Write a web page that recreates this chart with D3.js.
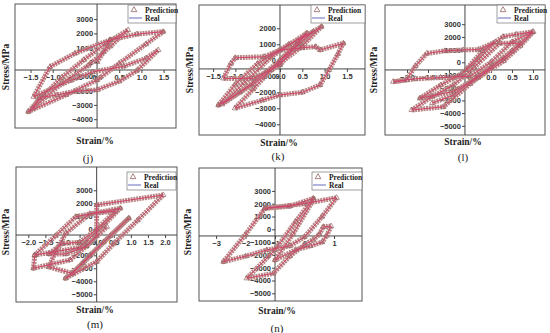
<!DOCTYPE html>
<html>
<head>
<meta charset="utf-8">
<script src="https://cdn.jsdelivr.net/npm/d3@7"></script>
<style>
  body { margin: 0; background: #fff; }
  svg { display: block; font-family: "Liberation Serif", "DejaVu Serif", serif; }
  .tick text { font-size: 7.5px; font-weight: bold; fill: #333; }
  .ttl { font-size: 9.5px; font-weight: bold; fill: #222; }
  .cap { font-size: 11px; fill: #222; }
  .leg { font-size: 7.5px; font-weight: bold; fill: #222; }
</style>
</head>
<body>
<svg width="550" height="333"></svg>
<script>
// strain (%) / stress (MPa) vertices
var loopJ = [
  [0, 0], [0.15, 700], [0.3, 1550], [0.9, 1950], [1.49, 2120],
  [1.1, 1250], [0.5, -100], [0, -1260], [-0.7, -2300], [-1.55, -3470],
  [-1.2, -2300], [-0.8, -1100], [-0.3, 150], [0.2, 1300], [0.7, 2240],
  [0.3, 1100], [-0.2, -250], [-0.8, -1500], [-1.45, -3250],
  [-1.3, -2500], [-0.9, -2300], [-0.5, -2050], [0, -1950], [0.5, -1350], [0.9, -600], [1.38, 840],
  [1.1, 250], [0.6, -300], [-0.1, -700], [-0.6, -1300], [-1.43, -2430],
  [-1.06, -330], [-0.5, 600], [0.29, 1540]
];
var loopK = [
  [0, 0], [0.4, 1200], [0.93, 2100], [0.5, 900], [0, -200], [-0.6, -1500], [-1.38, -2800],
  [-1.0, -1500], [-0.5, -200], [0.2, 1000], [0.75, 1800],
  [0.3, 700], [-0.3, -700], [-0.9, -2000], [-1.3, -2750],
  [-0.8, -1400], [-0.2, 200], [0.6, 1700],
  [0.0, -300], [-0.6, -1130], [-1.27, -1130], [-1.1, -200], [-1.0, 160], [-0.36, 220], [0, 640],
  [0.5, 780], [0.8, 850], [0.9, 650], [1.42, 1060],
  [1.3, 400], [1.1, -600], [0.9, -1540], [0.5, -2000], [0, -2170], [-0.4, -2500], [-1.01, -3000],
  [-0.6, -1800], [-0.2, -600], [0.4, 1000]
];
var loopL = [
  [-0.6, -600], [-0.2, 900], [0.29, 2020], [0.6, 2200], [1.01, 2410],
  [0.7, 1300], [0.3, 100], [-0.3, -1200], [-0.9, -2300], [-1.69, -2830],
  [-1.2, -1800], [-0.7, -900], [-0.3, 200], [0.1, 1600],
  [-0.3, 1000], [-0.66, 970], [-1.1, 900], [-1.53, 700], [-1.8, -300], [-2.01, -1390], [-2.33, -1530],
  [-1.8, -1300], [-1.2, -1200], [-0.5, -1100], [0, 0], [0.5, 1600], [0.99, 2400],
  [0.5, 900], [0, -400], [-0.5, -1700], [-1.13, -3500], [-1.89, -3760],
  [-1.4, -2700], [-0.9, -1800], [-0.4, -400], [0.2, 1500], [0.7, 1500],
  [0.3, 300], [-0.3, -1000], [-0.9, -2600], [-1.4, -3200]
];
var loopM = [
  [-1.81, -1980], [-1.2, -500], [-0.61, 970], [0.69, 1620], [0.2, 300], [-0.5, -1400], [-1.81, -1980],
  [-1.85, -3000], [-0.78, -2360], [-0.3, -1300], [0, -500], [0, 1870], [1.95, 2640],
  [1.2, 700], [0.5, -1100], [0, -2490], [-0.91, -3770], [-0.4, -2600], [0.2, -1000], [0.94, 850],
  [0.4, -500], [-0.2, -2000], [-0.7, -3400],
  [-1.4, -2900], [-1.2, -1700], [-0.9, -300], [-0.2, 1200], [0.55, 1400],
  [0, 0], [-0.5, -1000], [-1.0, -1100], [-1.4, -1900], [-0.9, -1900], [-0.3, -1300], [0.3, 200]
];
var loopN = [
  [-1.34, 1640], [0, 2000], [1.09, 2470], [0.6, 1000], [0, -600], [-0.5, -1300], [-1.28, -1620],
  [-2.0, -2100], [-2.75, -2530], [-2.0, -400], [-1.34, 1640],
  [-0.5, 1800], [0.30, 2420], [-0.3, 600], [-1.0, -1600], [-1.96, -3830], [-1.06, -3440],
  [-0.5, -2100], [0, -1200], [0.3, -800], [0.5, -400], [0.64, 200], [0.9, 250],
  [0.75, -500], [0.6, -1000], [0.2, -1300], [-0.3, -1600], [-1.0, -2400], [-0.4, -400], [0.3, 2300]
];

var ticksX = {
  j: [-1.5, -1, -0.5, 0, 0.5, 1, 1.5],
  k: [-1.5, -1, -0.5, 0, 0.5, 1, 1.5],
  l: [-2, -1.5, -1, -0.5, 0, 0.5, 1],
  m: [-2, -1.5, -1, -0.5, 0, 0.5, 1, 1.5, 2],
  n: [-3, -2, -1, 0, 1]
};
var ticksY = {
  j: [-4000, -3000, -2000, -1000, 0, 1000, 2000, 3000],
  k: [-4000, -3000, -2000, -1000, 0, 1000, 2000],
  l: [-5000, -4000, -3000, -2000, -1000, 0, 1000, 2000, 3000],
  m: [-5000, -4000, -3000, -2000, -1000, 0, 1000, 2000, 3000],
  n: [-5000, -4000, -3000, -2000, -1000, 0, 1000, 2000, 3000]
};

var panels = [
  { id: "j", data: loopJ, box: [15, 4, 176, 128], xd: [-1.85, 1.78], yd: [-4615, 4056], xAt: -560, yAt: 0, fmt: ".1f",
    stress: [6, 67], strain: [95, 141], cap: [88, 158], leg: [128, 5, 48] },
  { id: "k", data: loopK, box: [199, 5, 365, 135], xd: [-1.816, 1.906], yd: [-4669, 3456], xAt: -540, yAt: 0, fmt: ".1f",
    stress: [190, 70], strain: [279, 143], cap: [278, 156], leg: [311, 5, 54] },
  { id: "l", data: loopL, box: [385, 5, 545, 135], xd: [-2.524, 1.286], yd: [-5724, 4512], xAt: -600, yAt: -0.62, fmt: ".1f",
    stress: [374, 70], strain: [463, 142], cap: [463, 157], leg: [497, 5, 48] },
  { id: "m", data: loopM, box: [16, 167, 177, 302], xd: [-2.36, 2.35], yd: [-5592, 4792], xAt: -440, yAt: 0, fmt: ".1f",
    stress: [6, 232], strain: [95, 310], cap: [95, 324], leg: [127, 172, 49] },
  { id: "n", data: loopN, box: [199, 168, 362, 301], xd: [-3.58, 1.95], yd: [-5601, 4789], xAt: -520, yAt: -1, fmt: "d",
    stress: [188, 232], strain: [277, 311], cap: [277, 328], leg: [312, 172, 50] }
];

var predColor = "#b88683", realColor = "#d2426e";
var svg = d3.select("svg");

panels.forEach(function (p) {
  var g = svg.append("g");
  var x = d3.scaleLinear().domain(p.xd).range([p.box[0], p.box[2]]);
  var y = d3.scaleLinear().domain(p.yd).range([p.box[3], p.box[1]]);

  g.append("rect")
    .attr("x", p.box[0]).attr("y", p.box[1])
    .attr("width", p.box[2] - p.box[0]).attr("height", p.box[3] - p.box[1])
    .attr("fill", "none").attr("stroke", "#555").attr("stroke-width", 1);

  // axes crossing inside the frame
  var ax = g.append("g").attr("transform", "translate(0," + y(p.xAt) + ")")
    .call(d3.axisBottom(x).tickValues(ticksX[p.id]).tickSize(3).tickPadding(2).tickFormat(d3.format(p.fmt)));
  ax.select(".domain").attr("d", "M" + p.box[0] + ",0H" + p.box[2]).attr("stroke", "#444");
  var ay = g.append("g").attr("transform", "translate(" + x(p.yAt) + ",0)")
    .call(d3.axisLeft(y).tickValues(ticksY[p.id]).tickSize(3).tickPadding(1).tickFormat(d3.format("d")));
  ay.select(".domain").attr("d", "M0," + p.box[1] + "V" + p.box[3]).attr("stroke", "#444");
  g.selectAll(".tick line").attr("stroke", "#444");
  g.selectAll(".tick text").attr("font-family", null).attr("font-size", null);

  var line = d3.line().x(function (d) { return x(d[0]); }).y(function (d) { return y(d[1]); });

  // prediction: dense triangle band
  g.append("path").datum(p.data).attr("d", line)
    .attr("fill", "none").attr("stroke", predColor).attr("stroke-width", 5)
    .attr("stroke-dasharray", "2,0.8").attr("stroke-linejoin", "round");
  g.selectAll(".tri").data(p.data).enter().append("path")
    .attr("transform", function (d) { return "translate(" + x(d[0]) + "," + y(d[1]) + ")"; })
    .attr("d", d3.symbol(d3.symbolTriangle, 12))
    .attr("fill", "none").attr("stroke", "#946462").attr("stroke-width", 0.7);
  // real
  g.append("path").datum(p.data).attr("d", line)
    .attr("fill", "none").attr("stroke", realColor).attr("stroke-width", 1).attr("stroke-linejoin", "round");

  // legend
  var lx = p.leg[0], ly = p.leg[1], lw = p.leg[2];
  g.append("rect").attr("x", lx).attr("y", ly).attr("width", lw).attr("height", 18)
    .attr("fill", "#fff").attr("stroke", "#777").attr("stroke-width", 0.7);
  g.append("path").attr("transform", "translate(" + (lx + 6) + "," + (ly + 5) + ")")
    .attr("d", d3.symbol(d3.symbolTriangle, 14))
    .attr("fill", "none").attr("stroke", "#946462").attr("stroke-width", 0.8);
  g.append("line").attr("x1", lx + 1).attr("x2", lx + 14).attr("y1", ly + 13).attr("y2", ly + 13)
    .attr("stroke", "#7f86c8").attr("stroke-width", 1.2);
  g.append("text").attr("class", "leg").attr("x", lx + 17).attr("y", ly + 7.5).text("Prediction");
  g.append("text").attr("class", "leg").attr("x", lx + 17).attr("y", ly + 16).text("Real");

  // titles
  g.append("text").attr("class", "ttl")
    .attr("transform", "translate(" + p.stress[0] + "," + p.stress[1] + ") rotate(-90)")
    .attr("text-anchor", "middle").attr("dominant-baseline", "central").text("Stress/MPa");
  g.append("text").attr("class", "ttl").attr("x", p.strain[0]).attr("y", p.strain[1])
    .attr("text-anchor", "middle").attr("dominant-baseline", "central").text("Strain/%");
  g.append("text").attr("class", "cap").attr("x", p.cap[0]).attr("y", p.cap[1])
    .attr("text-anchor", "middle").attr("dominant-baseline", "central").text("(" + p.id + ")");
});
</script>
</body>
</html>
